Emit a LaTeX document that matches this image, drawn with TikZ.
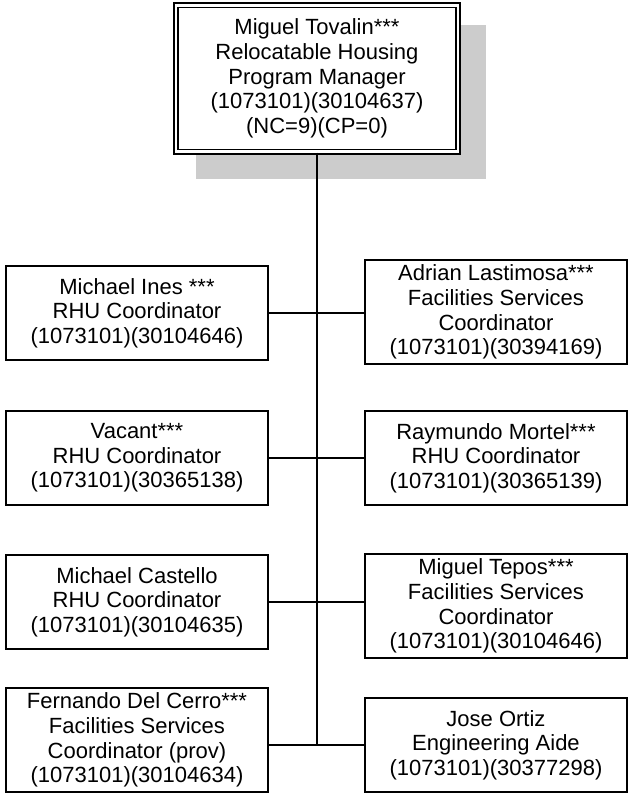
\documentclass[tikz,border=0pt]{standalone}
\usepackage{fontspec}
\setmainfont{Liberation Sans}
\usepackage{tikz}
\usetikzlibrary{positioning}
\definecolor{shadowgray}{HTML}{CCCCCC}

\begin{document}
\begin{tikzpicture}[x=0.75pt, y=-0.75pt,
  every node/.style={font=\fontsize{16.5pt}{18.5pt}\selectfont},
  box/.style={draw, line width=1.3pt, fill=white, align=center,
              minimum width=196.5pt, minimum height=70pt, inner sep=1pt},
  tall/.style={box, minimum height=78pt},
  head/.style={draw, double, double distance=2.2pt, line width=1.2pt, fill=white,
               align=center, minimum width=211.5pt, minimum height=110pt, inner sep=1pt},
  link/.style={line width=1.3pt}
]
\useasboundingbox (0,0) rectangle (629,794);
% shadow behind the manager box
\fill[shadowgray] (196,25) rectangle (486,179);
\node[head] (mgr) at (317,78.5) {Miguel Tovalin***\\Relocatable Housing\\Program Manager\\(1073101)(30104637)\\(NC=9)(CP=0)};

\node[box] (ines) at (137,313) {Michael Ines ***\\RHU Coordinator\\(1073101)(30104646)};
\node[tall] (lastimosa) at (496,312) {Adrian Lastimosa***\\Facilities Services\\Coordinator\\(1073101)(30394169)};
\node[box] (vacant) at (137,458) {Vacant***\\RHU Coordinator\\(1073101)(30365138)};
\node[box] (mortel) at (496,458) {Raymundo Mortel***\\RHU Coordinator\\(1073101)(30365139)};
\node[box] (castello) at (137,602) {Michael Castello\\RHU Coordinator\\(1073101)(30104635)};
\node[tall] (tepos) at (496,606) {Miguel Tepos***\\Facilities Services\\Coordinator\\(1073101)(30104646)};
\node[tall] (cerro) at (137,740) {Fernando Del Cerro***\\Facilities Services\\Coordinator (prov)\\(1073101)(30104634)};
\node[box] (ortiz) at (496,745) {Jose Ortiz\\Engineering Aide\\(1073101)(30377298)};

\draw[link] (mgr.south) -- (mgr.south |- ortiz.west);
\draw[link] (ines.east) -- (ines.east -| lastimosa.west);
\draw[link] (vacant.east) -- (mortel.west);
\draw[link] (castello.east) -- (castello.east -| tepos.west);
\draw[link] (cerro.east |- ortiz.west) -- (ortiz.west);
\end{tikzpicture}
\end{document}
